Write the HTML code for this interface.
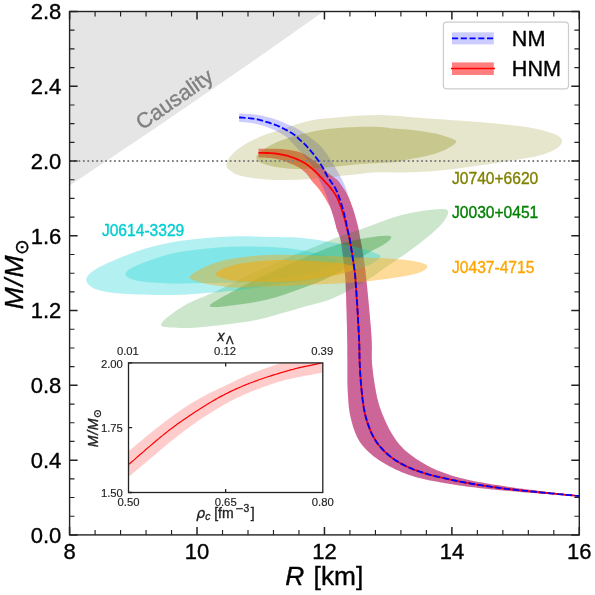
<!DOCTYPE html><html><head><meta charset="utf-8"><title>M-R</title><style>html,body{margin:0;padding:0;background:#fff}svg{color:#000}svg text{font-family:"Liberation Sans","DejaVu Sans",sans-serif;fill:currentColor;stroke:currentColor;stroke-width:.35px}</style></head><body><svg width="595" height="595" viewBox="0 0 595 595" style="display:block">
<rect width="595" height="595" fill="#fff"/>
<defs><clipPath id="ax"><rect x="69.6" y="11.5" width="509.69999999999993" height="523.4"/></clipPath><clipPath id="ins"><rect x="128.5" y="362.9" width="194.3" height="129.60000000000002"/></clipPath></defs>
<g clip-path="url(#ax)">
<path d="M69.6,185.6L153.3,129.6L250,63.2L323.6,11.5L69.6,11.5Z" fill="#e5e5e5"/>
<path d="M258.5,157.4L259.2,157.4L260.0,157.5L261.0,157.5L262.1,157.5L263.3,157.6L264.5,157.6L265.8,157.7L267.1,157.8L268.4,157.9L269.7,158.0L270.9,158.1L272.0,158.2L273.1,158.4L274.1,158.5L275.2,158.7L276.3,158.9L277.3,159.2L278.4,159.4L279.4,159.6L280.3,159.9L281.3,160.1L282.2,160.3L283.0,160.6L283.8,160.8L284.5,161.0L285.1,161.2L285.7,161.4L286.2,161.7L286.7,161.9L287.1,162.1L287.5,162.3L288.0,162.5L288.4,162.8L288.9,163.0L289.4,163.2L290.0,163.5L290.6,163.8L291.3,164.0L292.0,164.3L292.7,164.6L293.4,164.8L294.1,165.1L294.8,165.4L295.5,165.7L296.3,166.1L297.0,166.4L297.7,166.8L298.4,167.2L299.1,167.6L299.8,168.1L300.5,168.6L301.2,169.1L301.9,169.6L302.6,170.2L303.3,170.7L303.9,171.3L304.6,171.9L305.2,172.4L305.8,173.0L306.4,173.6L306.9,174.2L307.4,174.8L307.9,175.4L308.3,176.0L308.8,176.6L309.2,177.2L309.6,177.9L310.0,178.5L310.4,179.1L310.9,179.8L311.3,180.4L311.8,181.0L312.3,181.6L312.8,182.2L313.4,182.8L313.9,183.4L314.5,184.0L315.1,184.6L315.6,185.2L316.2,185.9L316.8,186.5L317.3,187.1L317.9,187.7L318.4,188.4L318.9,189.1L319.4,189.8L320.0,190.5L320.5,191.2L321.0,191.9L321.5,192.6L322.0,193.4L322.5,194.1L323.0,194.8L323.4,195.5L323.9,196.2L324.3,196.8L324.7,197.4L325.1,198.0L325.4,198.7L325.8,199.3L326.1,199.9L326.4,200.4L326.7,201.0L327.0,201.5L327.3,202.1L327.6,202.6L327.8,203.0L328.1,203.5L328.3,203.9L328.5,204.2L328.7,204.5L328.9,204.8L329.0,205.0L329.2,205.2L329.3,205.4L329.5,205.7L329.6,206.0L329.8,206.4L330.0,206.8L330.2,207.3L330.4,207.9L330.7,208.5L330.9,209.2L331.2,210.0L331.5,210.8L331.8,211.6L332.1,212.5L332.3,213.3L332.6,214.2L332.9,215.1L333.2,216.1L333.5,217.0L333.8,218.0L334.1,219.0L334.3,220.0L334.6,221.1L334.9,222.2L335.2,223.3L335.5,224.4L335.8,225.5L336.0,226.6L336.3,227.7L336.6,228.7L336.9,229.6L337.2,230.5L337.5,231.2L337.8,232.0L338.1,232.6L338.4,233.3L338.6,233.9L338.9,234.6L339.2,235.3L339.5,236.0L339.8,236.9L340.0,237.8L340.3,238.8L340.5,239.9L340.8,241.2L341.0,242.5L341.3,243.9L341.5,245.3L341.7,246.8L341.9,248.3L342.1,249.8L342.3,251.3L342.5,252.8L342.7,254.2L342.9,255.6L343.1,256.9L343.2,258.3L343.4,259.7L343.5,261.0L343.7,262.4L343.8,263.7L343.9,265.0L344.1,266.2L344.2,267.5L344.3,268.6L344.4,269.7L344.5,270.8L344.6,271.7L344.7,272.4L344.8,273.0L344.8,273.5L344.9,274.0L345.0,274.5L345.0,275.0L345.1,275.6L345.2,276.4L345.2,277.3L345.3,278.5L345.4,280.0L345.5,281.8L345.6,283.8L345.7,286.0L345.8,288.5L345.9,291.0L346.0,293.7L346.1,296.4L346.2,299.2L346.2,302.0L346.3,304.8L346.4,307.4L346.5,310.0L346.6,312.5L346.6,315.1L346.7,317.6L346.8,320.2L346.8,322.8L346.9,325.3L347.0,327.9L347.0,330.4L347.1,332.9L347.1,335.3L347.2,337.7L347.2,340.0L347.2,342.3L347.3,344.5L347.3,346.6L347.3,348.7L347.3,350.8L347.3,352.8L347.3,354.8L347.3,356.8L347.4,358.8L347.4,360.9L347.4,362.9L347.4,365.0L347.4,367.1L347.4,369.2L347.4,371.3L347.4,373.4L347.4,375.5L347.4,377.7L347.4,379.8L347.4,381.9L347.5,384.0L347.5,386.2L347.6,388.3L347.7,390.4L347.8,392.5L347.9,394.7L348.1,396.8L348.2,399.0L348.3,401.2L348.5,403.3L348.7,405.5L348.9,407.6L349.2,409.7L349.5,411.8L349.9,413.9L350.3,416.0L350.8,418.1L351.3,420.1L351.8,422.2L352.4,424.3L353.0,426.4L353.7,428.4L354.4,430.4L355.1,432.4L355.9,434.3L356.7,436.2L357.6,437.9L358.5,439.6L359.4,441.2L360.4,442.7L361.4,444.1L362.5,445.5L363.6,446.8L364.7,448.1L365.9,449.3L367.1,450.5L368.4,451.7L369.7,452.9L371.0,454.0L372.4,455.2L373.8,456.4L375.3,457.5L376.8,458.6L378.4,459.7L380.0,460.8L381.6,461.8L383.3,462.8L385.0,463.8L386.7,464.8L388.5,465.7L390.2,466.7L392.0,467.6L393.8,468.5L395.6,469.4L397.5,470.2L399.4,471.1L401.3,471.9L403.3,472.7L405.2,473.5L407.2,474.2L409.2,474.9L411.2,475.6L413.3,476.3L415.3,476.9L417.4,477.5L419.4,478.1L421.5,478.6L423.6,479.1L425.7,479.5L427.9,480.0L430.0,480.4L432.2,480.8L434.4,481.2L436.6,481.6L438.8,482.0L441.0,482.4L443.2,482.8L445.5,483.2L447.7,483.6L450.0,484.0L452.2,484.3L454.5,484.7L456.8,485.0L459.1,485.4L461.5,485.7L463.9,486.0L466.3,486.4L468.7,486.7L471.2,487.0L473.6,487.3L476.1,487.6L478.5,487.9L481.0,488.2L483.6,488.5L486.2,488.8L488.8,489.1L491.5,489.4L494.2,489.6L497.1,489.9L500.0,490.2L503.0,490.5L506.2,490.8L509.4,491.0L512.7,491.3L516.1,491.6L519.5,491.9L522.9,492.2L526.4,492.4L529.8,492.7L533.3,493.0L536.7,493.2L540.0,493.5L543.4,493.8L547.0,494.0L550.8,494.3L554.6,494.6L558.4,494.9L562.1,495.2L565.7,495.4L569.1,495.7L572.3,495.9L575.0,496.1L577.4,496.3L579.3,496.4L579.3,495.6L577.4,495.4L575.0,495.1L572.3,494.8L569.1,494.4L565.7,494.0L562.1,493.6L558.4,493.2L554.6,492.8L550.8,492.3L547.0,491.9L543.4,491.4L540.0,491.0L536.7,490.6L533.3,490.1L529.8,489.7L526.4,489.3L522.9,488.8L519.5,488.4L516.1,487.9L512.7,487.5L509.4,487.0L506.2,486.5L503.0,486.1L500.0,485.6L497.1,485.1L494.2,484.7L491.4,484.2L488.6,483.7L485.9,483.3L483.3,482.8L480.7,482.3L478.2,481.9L475.7,481.4L473.3,480.9L471.0,480.4L468.7,479.9L466.5,479.4L464.4,478.9L462.4,478.4L460.4,477.9L458.5,477.4L456.6,476.9L454.8,476.4L453.1,475.9L451.3,475.4L449.5,474.8L447.8,474.2L446.0,473.6L444.2,473.0L442.5,472.3L440.8,471.7L439.1,471.0L437.4,470.4L435.8,469.7L434.2,469.0L432.5,468.2L430.9,467.4L429.2,466.6L427.6,465.7L425.9,464.8L424.2,463.8L422.5,462.8L420.7,461.7L418.9,460.6L417.1,459.4L415.3,458.2L413.6,457.0L411.9,455.8L410.2,454.6L408.6,453.3L407.1,452.1L405.7,450.9L404.4,449.7L403.1,448.5L402.0,447.3L400.8,446.1L399.8,445.0L398.8,443.7L397.8,442.5L396.8,441.3L395.9,440.0L395.0,438.6L394.0,437.2L393.1,435.8L392.2,434.3L391.2,432.7L390.3,431.1L389.4,429.4L388.5,427.7L387.7,426.0L386.8,424.3L386.0,422.5L385.2,420.8L384.4,419.0L383.7,417.3L383.0,415.6L382.3,414.0L381.7,412.4L381.1,410.8L380.6,409.3L380.0,407.7L379.5,406.2L379.0,404.6L378.5,403.0L378.1,401.2L377.6,399.4L377.1,397.5L376.7,395.5L376.2,393.3L375.8,391.0L375.4,388.5L374.9,386.0L374.5,383.3L374.1,380.7L373.7,378.0L373.3,375.3L373.0,372.7L372.7,370.1L372.4,367.6L372.2,365.2L372.0,362.9L371.9,360.8L371.8,358.7L371.8,356.6L371.8,354.6L371.8,352.6L371.8,350.6L371.9,348.6L371.9,346.5L371.8,344.4L371.8,342.3L371.7,340.0L371.6,337.7L371.4,335.3L371.2,332.8L371.1,330.4L370.9,327.8L370.7,325.3L370.4,322.7L370.2,320.2L370.0,317.6L369.8,315.1L369.5,312.5L369.3,310.0L369.1,307.5L368.8,304.8L368.6,302.1L368.3,299.4L368.1,296.7L367.8,294.0L367.5,291.4L367.3,288.8L367.1,286.4L366.8,284.1L366.6,282.0L366.4,280.0L366.2,278.3L366.1,276.7L365.9,275.3L365.8,274.1L365.6,273.0L365.5,271.9L365.4,270.9L365.3,269.9L365.1,269.0L365.0,267.9L364.9,266.9L364.7,265.7L364.5,264.5L364.4,263.2L364.2,262.0L364.0,260.7L363.8,259.5L363.7,258.2L363.5,256.9L363.3,255.7L363.1,254.4L362.9,253.1L362.7,251.9L362.5,250.6L362.3,249.3L362.0,248.0L361.8,246.6L361.5,245.2L361.3,243.8L361.0,242.5L360.8,241.1L360.5,239.9L360.3,238.6L360.1,237.5L359.9,236.4L359.7,235.5L359.6,234.7L359.4,234.0L359.4,233.5L359.3,233.0L359.2,232.6L359.2,232.2L359.1,231.9L359.1,231.5L359.0,231.2L358.9,230.7L358.8,230.2L358.7,229.6L358.5,228.9L358.4,228.2L358.2,227.4L358.0,226.6L357.8,225.7L357.6,224.9L357.4,224.0L357.1,223.1L356.9,222.2L356.7,221.3L356.4,220.4L356.2,219.5L356.0,218.6L355.7,217.7L355.5,216.8L355.2,215.9L354.9,215.0L354.7,214.1L354.4,213.2L354.1,212.3L353.8,211.4L353.5,210.4L353.2,209.5L352.9,208.6L352.6,207.7L352.3,206.8L351.9,205.8L351.6,204.9L351.3,203.9L350.9,203.0L350.6,202.1L350.2,201.1L349.8,200.2L349.5,199.3L349.1,198.5L348.7,197.6L348.3,196.8L347.9,195.9L347.5,195.1L347.1,194.4L346.7,193.6L346.3,192.8L345.8,192.1L345.4,191.3L345.0,190.6L344.5,189.8L344.1,189.1L343.6,188.4L343.1,187.7L342.6,186.9L342.1,186.2L341.6,185.4L341.1,184.7L340.6,184.0L340.1,183.3L339.6,182.6L339.1,181.9L338.6,181.3L338.1,180.8L337.7,180.3L337.3,179.9L336.9,179.5L336.6,179.2L336.3,179.0L336.0,178.8L335.7,178.6L335.4,178.4L335.1,178.2L334.8,178.0L334.5,177.8L334.1,177.6L333.7,177.3L333.3,177.0L332.8,176.6L332.3,176.3L331.8,175.9L331.3,175.5L330.8,175.1L330.2,174.7L329.7,174.3L329.2,173.9L328.7,173.6L328.2,173.2L327.8,172.8L327.4,172.4L327.1,172.1L326.7,171.8L326.4,171.5L326.1,171.2L325.9,170.8L325.6,170.5L325.2,170.2L324.9,169.8L324.5,169.4L324.1,169.0L323.6,168.6L323.0,168.1L322.4,167.6L321.8,167.1L321.1,166.5L320.4,165.9L319.7,165.3L318.9,164.7L318.2,164.1L317.4,163.5L316.6,162.9L315.9,162.3L315.2,161.8L314.5,161.3L313.7,160.7L313.0,160.2L312.2,159.6L311.4,159.1L310.6,158.6L309.9,158.1L309.2,157.6L308.5,157.1L307.9,156.7L307.3,156.3L306.8,156.0L306.4,155.7L306.1,155.5L305.8,155.3L305.7,155.2L305.5,155.0L305.4,154.9L305.3,154.9L305.2,154.8L305.0,154.7L304.8,154.6L304.6,154.5L304.3,154.3L303.9,154.1L303.5,153.9L303.1,153.7L302.7,153.5L302.2,153.3L301.7,153.1L301.2,152.8L300.7,152.6L300.1,152.4L299.6,152.2L299.0,152.0L298.4,151.8L297.8,151.6L297.2,151.5L296.6,151.3L295.9,151.2L295.3,151.0L294.6,150.9L293.9,150.7L293.2,150.6L292.4,150.5L291.6,150.4L290.8,150.2L290.0,150.1L289.1,150.0L288.3,149.8L287.4,149.7L286.5,149.6L285.5,149.5L284.6,149.4L283.6,149.2L282.6,149.1L281.5,149.0L280.4,148.9L279.2,148.9L278.0,148.8L276.7,148.7L275.2,148.7L273.6,148.7L271.9,148.7L270.2,148.7L268.5,148.7L266.8,148.7L265.2,148.7L263.7,148.7L262.4,148.7L261.2,148.7L260.3,148.7L259.6,148.7L259.1,148.7L258.7,148.7L258.5,148.7L258.3,148.7L258.3,148.7L258.3,148.7L258.4,148.7L258.5,148.7L258.5,148.7L258.5,148.7L258.5,148.7Z" fill="#ff0000" fill-opacity="0.5"/>
<path d="M239.1,121.8L239.9,121.9L240.8,122.0L241.9,122.1L243.2,122.2L244.6,122.3L246.0,122.4L247.5,122.6L249.0,122.8L250.5,122.9L251.9,123.1L253.2,123.3L254.4,123.5L255.5,123.7L256.6,123.9L257.6,124.2L258.6,124.4L259.6,124.7L260.5,124.9L261.5,125.2L262.4,125.5L263.3,125.8L264.3,126.1L265.2,126.5L266.2,126.8L267.2,127.2L268.2,127.5L269.2,127.9L270.2,128.3L271.3,128.8L272.3,129.2L273.3,129.6L274.3,130.1L275.2,130.5L276.1,130.9L277.0,131.4L277.9,131.8L278.7,132.2L279.5,132.6L280.3,133.1L281.1,133.5L281.8,133.9L282.5,134.4L283.2,134.8L283.9,135.2L284.5,135.6L285.1,136.0L285.7,136.4L286.2,136.8L286.7,137.1L287.0,137.4L287.4,137.7L287.6,137.9L287.9,138.2L288.1,138.4L288.3,138.6L288.6,138.9L288.8,139.2L289.2,139.6L289.5,140.0L290.0,140.5L290.5,141.1L291.2,141.7L291.8,142.4L292.6,143.2L293.3,144.0L294.1,144.8L294.8,145.7L295.6,146.5L296.4,147.3L297.1,148.1L297.8,148.8L298.4,149.5L299.0,150.1L299.5,150.7L300.0,151.3L300.5,151.8L301.0,152.3L301.5,152.8L301.9,153.3L302.4,153.8L302.8,154.3L303.3,154.8L303.8,155.4L304.3,156.0L304.8,156.6L305.4,157.3L306.0,158.0L306.6,158.7L307.2,159.5L307.8,160.2L308.3,160.9L308.9,161.7L309.5,162.4L310.0,163.1L310.5,163.8L311.0,164.4L311.4,165.0L311.8,165.6L312.2,166.1L312.6,166.7L312.9,167.2L313.3,167.7L313.6,168.2L313.9,168.8L314.2,169.3L314.5,169.9L314.9,170.5L315.2,171.1L315.6,171.8L315.9,172.5L316.3,173.2L316.6,173.9L317.0,174.7L317.3,175.4L317.7,176.2L318.0,177.0L318.4,177.8L318.7,178.5L319.1,179.3L319.4,180.0L319.7,180.7L320.1,181.4L320.4,182.1L320.8,182.8L321.1,183.5L321.4,184.2L321.8,184.9L322.1,185.6L322.4,186.3L322.8,187.0L323.1,187.7L323.4,188.4L323.7,189.1L324.0,189.8L324.3,190.5L324.6,191.1L324.9,191.8L325.1,192.5L325.4,193.2L325.7,193.9L326.0,194.6L326.2,195.3L326.5,196.0L326.8,196.8L327.1,197.6L327.4,198.4L327.7,199.2L327.9,200.0L328.2,200.9L328.5,201.7L328.8,202.6L329.1,203.5L329.4,204.3L329.6,205.2L329.9,206.1L330.2,206.9L330.5,207.7L330.8,208.6L331.0,209.4L331.3,210.2L331.6,211.0L331.8,211.8L332.1,212.6L332.4,213.4L332.7,214.3L332.9,215.2L333.2,216.1L333.5,217.0L333.8,218.0L334.1,219.0L334.3,220.1L334.6,221.1L334.9,222.2L335.2,223.4L335.5,224.5L335.8,225.6L336.0,226.6L336.3,227.7L336.6,228.7L336.9,229.6L337.2,230.5L337.5,231.2L337.8,232.0L338.1,232.6L338.4,233.3L338.6,233.9L338.9,234.6L339.2,235.3L339.5,236.0L339.8,236.9L340.0,237.8L340.3,238.8L340.5,239.9L340.8,241.2L341.0,242.5L341.3,243.9L341.5,245.3L341.7,246.8L341.9,248.3L342.1,249.8L342.3,251.3L342.5,252.8L342.7,254.2L342.9,255.6L343.1,256.9L343.2,258.3L343.4,259.7L343.5,261.0L343.7,262.4L343.8,263.7L343.9,265.0L344.1,266.2L344.2,267.5L344.3,268.6L344.4,269.7L344.5,270.8L344.6,271.7L344.7,272.4L344.8,273.0L344.8,273.5L344.9,274.0L345.0,274.5L345.0,275.0L345.1,275.6L345.2,276.4L345.2,277.3L345.3,278.5L345.4,280.0L345.5,281.8L345.6,283.8L345.7,286.0L345.8,288.5L345.9,291.0L346.0,293.7L346.1,296.4L346.2,299.2L346.2,302.0L346.3,304.8L346.4,307.4L346.5,310.0L346.6,312.5L346.6,315.1L346.7,317.6L346.8,320.2L346.8,322.8L346.9,325.3L347.0,327.9L347.0,330.4L347.1,332.9L347.1,335.3L347.2,337.7L347.2,340.0L347.2,342.3L347.3,344.5L347.3,346.6L347.3,348.7L347.3,350.8L347.3,352.8L347.3,354.8L347.3,356.8L347.4,358.8L347.4,360.9L347.4,362.9L347.4,365.0L347.4,367.1L347.4,369.2L347.4,371.3L347.4,373.4L347.4,375.5L347.4,377.7L347.4,379.8L347.4,381.9L347.5,384.0L347.5,386.2L347.6,388.3L347.7,390.4L347.8,392.5L347.9,394.7L348.1,396.8L348.2,399.0L348.3,401.2L348.5,403.3L348.7,405.5L348.9,407.6L349.2,409.7L349.5,411.8L349.9,413.9L350.3,416.0L350.8,418.1L351.3,420.1L351.8,422.2L352.4,424.3L353.0,426.4L353.7,428.4L354.4,430.4L355.1,432.4L355.9,434.3L356.7,436.2L357.6,437.9L358.5,439.6L359.4,441.2L360.4,442.7L361.4,444.1L362.5,445.5L363.6,446.8L364.7,448.1L365.9,449.3L367.1,450.5L368.4,451.7L369.7,452.9L371.0,454.0L372.4,455.2L373.8,456.4L375.3,457.5L376.8,458.6L378.4,459.7L380.0,460.8L381.6,461.8L383.3,462.8L385.0,463.8L386.7,464.8L388.5,465.7L390.2,466.7L392.0,467.6L393.8,468.5L395.6,469.4L397.5,470.2L399.4,471.1L401.3,471.9L403.3,472.7L405.2,473.5L407.2,474.2L409.2,474.9L411.2,475.6L413.3,476.3L415.3,476.9L417.4,477.5L419.4,478.1L421.5,478.6L423.6,479.1L425.7,479.5L427.9,480.0L430.0,480.4L432.2,480.8L434.4,481.2L436.6,481.6L438.8,482.0L441.0,482.4L443.2,482.8L445.5,483.2L447.7,483.6L450.0,484.0L452.2,484.3L454.5,484.7L456.8,485.0L459.1,485.4L461.5,485.7L463.9,486.0L466.3,486.4L468.7,486.7L471.2,487.0L473.6,487.3L476.1,487.6L478.5,487.9L481.0,488.2L483.6,488.5L486.2,488.8L488.8,489.1L491.5,489.4L494.2,489.6L497.1,489.9L500.0,490.2L503.0,490.5L506.2,490.8L509.4,491.0L512.7,491.3L516.1,491.6L519.5,491.9L522.9,492.2L526.4,492.4L529.8,492.7L533.3,493.0L536.7,493.2L540.0,493.5L543.4,493.8L547.0,494.0L550.8,494.3L554.6,494.6L558.4,494.9L562.1,495.2L565.7,495.4L569.1,495.7L572.3,495.9L575.0,496.1L577.4,496.3L579.3,496.4L579.3,495.6L577.4,495.4L575.0,495.1L572.3,494.8L569.1,494.4L565.7,494.0L562.1,493.6L558.4,493.2L554.6,492.8L550.8,492.3L547.0,491.9L543.4,491.4L540.0,491.0L536.7,490.6L533.3,490.1L529.8,489.7L526.4,489.3L522.9,488.8L519.5,488.4L516.1,487.9L512.7,487.5L509.4,487.0L506.2,486.5L503.0,486.1L500.0,485.6L497.1,485.1L494.2,484.7L491.4,484.2L488.6,483.7L485.9,483.3L483.3,482.8L480.7,482.3L478.2,481.9L475.7,481.4L473.3,480.9L471.0,480.4L468.7,479.9L466.5,479.4L464.4,478.9L462.4,478.4L460.4,477.9L458.5,477.4L456.6,476.9L454.8,476.4L453.1,475.9L451.3,475.4L449.5,474.8L447.8,474.2L446.0,473.6L444.2,473.0L442.5,472.3L440.8,471.7L439.1,471.0L437.4,470.4L435.8,469.7L434.2,469.0L432.5,468.2L430.9,467.4L429.2,466.6L427.6,465.7L425.9,464.8L424.2,463.8L422.5,462.8L420.7,461.7L418.9,460.6L417.1,459.4L415.3,458.2L413.6,457.0L411.9,455.8L410.2,454.6L408.6,453.3L407.1,452.1L405.7,450.9L404.4,449.7L403.1,448.5L402.0,447.3L400.8,446.1L399.8,445.0L398.8,443.7L397.8,442.5L396.8,441.3L395.9,440.0L395.0,438.6L394.0,437.2L393.1,435.8L392.2,434.3L391.2,432.7L390.3,431.1L389.4,429.4L388.5,427.7L387.7,426.0L386.8,424.3L386.0,422.5L385.2,420.8L384.4,419.0L383.7,417.3L383.0,415.6L382.3,414.0L381.7,412.4L381.1,410.8L380.6,409.3L380.0,407.7L379.5,406.2L379.0,404.6L378.5,403.0L378.1,401.2L377.6,399.4L377.1,397.5L376.7,395.5L376.2,393.3L375.8,391.0L375.4,388.5L374.9,386.0L374.5,383.3L374.1,380.7L373.7,378.0L373.3,375.3L373.0,372.7L372.7,370.1L372.4,367.6L372.2,365.2L372.0,362.9L371.9,360.8L371.8,358.7L371.8,356.6L371.8,354.6L371.8,352.6L371.8,350.6L371.9,348.6L371.9,346.5L371.8,344.4L371.8,342.3L371.7,340.0L371.6,337.7L371.4,335.3L371.2,332.8L371.1,330.4L370.9,327.8L370.7,325.3L370.4,322.7L370.2,320.2L370.0,317.6L369.8,315.1L369.5,312.5L369.3,310.0L369.1,307.5L368.8,304.8L368.6,302.1L368.3,299.4L368.1,296.7L367.8,294.0L367.5,291.4L367.3,288.8L367.1,286.4L366.8,284.1L366.6,282.0L366.4,280.0L366.2,278.3L366.1,276.7L365.9,275.3L365.8,274.1L365.6,273.0L365.5,271.9L365.4,270.9L365.3,269.9L365.1,269.0L365.0,267.9L364.9,266.9L364.7,265.7L364.5,264.5L364.4,263.2L364.2,262.0L364.0,260.7L363.8,259.5L363.7,258.2L363.5,256.9L363.3,255.7L363.1,254.4L362.9,253.1L362.7,251.9L362.5,250.6L362.3,249.3L362.0,248.0L361.8,246.6L361.5,245.2L361.3,243.8L361.0,242.5L360.8,241.1L360.5,239.9L360.3,238.6L360.1,237.5L359.9,236.4L359.7,235.5L359.6,234.7L359.4,234.0L359.4,233.5L359.3,233.0L359.2,232.6L359.2,232.2L359.1,231.9L359.1,231.5L359.0,231.2L358.9,230.7L358.8,230.2L358.7,229.6L358.5,228.9L358.4,228.2L358.2,227.4L358.0,226.6L357.8,225.7L357.6,224.9L357.4,224.0L357.1,223.1L356.9,222.2L356.7,221.3L356.4,220.4L356.2,219.5L356.0,218.6L355.7,217.7L355.5,216.8L355.2,215.9L354.9,214.9L354.7,214.0L354.4,213.1L354.1,212.1L353.8,211.2L353.6,210.3L353.3,209.5L353.0,208.6L352.7,207.8L352.4,207.0L352.1,206.2L351.8,205.4L351.5,204.6L351.2,203.9L350.9,203.1L350.6,202.3L350.3,201.6L350.1,200.8L349.8,200.1L349.5,199.3L349.2,198.5L349.0,197.7L348.7,197.0L348.5,196.2L348.2,195.4L348.0,194.6L347.8,193.8L347.5,193.0L347.3,192.3L347.0,191.5L346.8,190.7L346.5,190.0L346.2,189.3L345.9,188.5L345.6,187.8L345.4,187.0L345.1,186.3L344.8,185.5L344.4,184.8L344.1,184.1L343.9,183.4L343.6,182.7L343.3,182.1L343.0,181.5L342.7,180.9L342.5,180.4L342.3,180.0L342.1,179.5L341.8,179.1L341.6,178.7L341.4,178.3L341.2,177.9L340.9,177.4L340.6,177.0L340.3,176.4L340.0,175.8L339.6,175.1L339.2,174.4L338.8,173.6L338.3,172.7L337.8,171.9L337.3,171.0L336.8,170.1L336.3,169.2L335.8,168.3L335.4,167.5L334.9,166.7L334.5,166.0L334.1,165.3L333.7,164.7L333.4,164.1L333.0,163.6L332.7,163.0L332.4,162.5L332.0,162.0L331.7,161.5L331.4,161.0L331.0,160.4L330.7,159.9L330.3,159.3L329.9,158.7L329.5,158.1L329.1,157.5L328.7,156.8L328.3,156.2L327.9,155.6L327.5,154.9L327.1,154.3L326.6,153.6L326.2,153.0L325.8,152.4L325.3,151.8L324.8,151.2L324.4,150.6L323.9,150.0L323.4,149.4L322.9,148.8L322.4,148.2L321.9,147.7L321.4,147.1L320.9,146.6L320.4,146.0L319.9,145.5L319.4,145.0L318.9,144.5L318.5,144.1L318.0,143.7L317.6,143.3L317.1,142.9L316.7,142.5L316.2,142.1L315.7,141.7L315.2,141.3L314.7,140.9L314.1,140.5L313.5,140.0L312.8,139.5L312.1,138.9L311.4,138.4L310.6,137.8L309.8,137.1L308.9,136.5L308.1,135.9L307.3,135.3L306.4,134.7L305.6,134.1L304.8,133.5L304.0,133.0L303.2,132.5L302.4,132.0L301.7,131.5L300.9,131.0L300.1,130.5L299.3,130.0L298.5,129.6L297.8,129.2L297.1,128.7L296.3,128.3L295.7,128.0L295.0,127.6L294.4,127.3L293.8,127.0L293.3,126.7L292.8,126.5L292.3,126.3L291.9,126.1L291.4,125.9L290.9,125.7L290.4,125.5L289.8,125.2L289.2,125.0L288.5,124.7L287.8,124.4L287.0,124.0L286.2,123.7L285.3,123.3L284.4,122.9L283.5,122.5L282.6,122.1L281.7,121.7L280.7,121.3L279.8,120.9L278.8,120.5L277.9,120.2L277.0,119.9L276.0,119.5L275.1,119.2L274.1,118.9L273.1,118.6L272.1,118.3L271.1,118.0L270.1,117.7L269.2,117.5L268.2,117.2L267.2,116.9L266.2,116.7L265.2,116.5L264.3,116.2L263.3,116.0L262.4,115.8L261.5,115.6L260.5,115.4L259.6,115.2L258.6,115.0L257.6,114.8L256.6,114.7L255.5,114.5L254.4,114.4L253.2,114.3L251.9,114.2L250.5,114.1L249.0,114.0L247.5,113.9L246.0,113.8L244.6,113.7L243.2,113.7L241.9,113.6L240.8,113.6L239.9,113.5L239.1,113.5Z" fill="#0000ff" fill-opacity="0.2"/>
<path d="M226.3,164.2C226.6,161.5 229.1,157.7 232.0,154.5C234.9,151.3 238.9,148.3 243.6,145.3C248.3,142.3 254.7,139.0 260.3,136.6C265.9,134.2 268.8,133.5 277.2,130.8C285.6,128.1 299.6,122.9 310.8,120.6C322.0,118.3 333.3,117.7 344.5,116.8C355.7,115.9 367.1,115.1 378.0,115.1C388.9,115.1 401.6,116.4 410.0,117.0C418.4,117.6 419.9,117.9 428.6,118.5C437.3,119.1 451.0,120.0 462.2,120.8C473.4,121.6 484.6,122.4 495.8,123.5C507.0,124.6 519.9,125.9 529.4,127.6C538.9,129.3 547.6,131.5 553.0,133.6C558.4,135.7 561.5,137.8 562.0,140.3C562.5,142.8 560.0,146.2 556.3,148.7C552.5,151.2 546.8,153.5 539.5,155.5C532.2,157.5 522.7,158.8 512.6,160.5C502.5,162.2 490.2,163.9 479.0,165.5C467.8,167.1 456.6,168.8 445.4,169.9C434.2,171.0 423.0,171.9 411.8,172.3C400.6,172.7 389.2,171.8 378.0,172.3C366.8,172.9 355.7,174.5 344.5,175.6C333.3,176.7 322.0,178.3 310.8,179.0C299.6,179.7 288.4,180.4 277.2,180.0C266.0,179.6 251.5,178.2 243.6,176.6C235.7,175.0 232.9,172.7 230.0,170.6C227.1,168.5 226.0,166.9 226.3,164.2Z" fill="#808000" fill-opacity="0.2"/>
<path d="M257.0,155.5C259.2,151.8 268.2,145.9 277.2,142.0C286.2,138.1 299.6,134.4 310.8,132.0C322.0,129.6 333.3,128.4 344.5,127.6C355.7,126.8 369.6,126.7 378.0,126.9C386.4,127.1 388.8,128.0 395.0,128.6C401.2,129.2 408.5,129.5 415.2,130.3C421.9,131.1 429.7,132.4 435.3,133.6C440.9,134.8 445.3,136.2 448.8,137.6C452.3,139.0 456.8,140.0 456.2,142.0C455.6,144.0 450.0,147.4 445.4,149.7C440.8,151.9 434.2,154.0 428.6,155.5C423.0,157.0 417.4,157.7 411.8,158.8C406.2,159.9 403.3,161.3 394.9,162.2C386.5,163.0 372.5,163.1 361.3,163.9C350.1,164.7 338.8,166.4 327.6,167.2C316.4,168.0 304.6,169.4 294.0,168.9C283.4,168.4 270.0,166.1 263.8,163.9C257.6,161.7 254.8,159.2 257.0,155.5Z" fill="#808000" fill-opacity="0.3"/>
<path d="M161.3,323.5C163.2,319.9 174.3,311.3 183.6,305.9C192.9,300.4 206.0,296.1 217.2,290.8C228.4,285.5 239.6,279.3 250.8,274.0C262.0,268.7 273.3,263.7 284.5,258.9C295.7,254.1 309.1,249.1 318.0,245.4C326.9,241.8 330.0,240.1 338.2,237.0C346.4,233.9 356.8,230.6 367.2,227.0C377.6,223.4 389.6,218.2 400.8,215.3C412.0,212.4 426.6,210.3 434.5,209.6C442.4,208.9 446.8,208.4 447.9,210.9C449.0,213.4 446.2,218.8 441.2,224.5C436.1,230.2 427.1,237.7 417.6,245.0C408.1,252.3 392.4,262.7 384.0,268.5C375.6,274.3 375.6,275.1 367.2,280.0C358.8,284.9 344.8,293.3 333.6,298.0C322.4,302.7 308.2,305.6 300.0,308.0C291.8,310.4 292.7,310.3 284.5,312.5C276.3,314.7 264.8,318.6 250.8,321.0C236.8,323.4 213.5,326.1 200.4,327.2C187.3,328.3 178.5,328.2 172.0,327.6C165.5,327.0 159.4,327.1 161.3,323.5Z" fill="#008000" fill-opacity="0.2"/>
<path d="M209.8,305.9C209.8,303.5 224.4,296.1 234.0,290.8C243.6,285.5 256.4,279.3 267.6,274.0C278.8,268.7 290.1,263.7 301.3,258.9C312.5,254.1 323.9,248.9 334.9,245.4C345.9,241.9 358.0,239.4 367.2,237.8C376.4,236.2 387.0,235.1 390.1,236.0C393.2,236.9 389.8,240.1 386.0,243.0C382.2,245.9 375.9,248.3 367.2,253.6C358.5,258.9 344.6,269.2 333.6,275.0C322.6,280.8 312.3,284.4 301.3,288.5C290.3,292.6 278.8,296.7 267.6,299.5C256.4,302.3 243.6,304.1 234.0,305.2C224.4,306.3 209.8,308.3 209.8,305.9Z" fill="#008000" fill-opacity="0.31"/>
<path d="M86.3,280.0C86.3,277.9 87.1,276.0 90.0,273.5C92.9,271.0 95.7,268.7 103.6,265.0C111.5,261.3 126.0,255.0 137.2,251.3C148.4,247.6 159.6,244.8 170.8,242.6C182.0,240.4 193.3,239.4 204.5,238.3C215.7,237.2 227.1,236.5 238.0,236.3C248.9,236.1 259.7,236.8 270.0,237.0C280.3,237.2 289.4,236.9 300.0,237.8C310.6,238.7 323.6,240.9 333.6,242.6C343.6,244.3 353.4,246.6 360.0,248.2C366.6,249.8 369.6,250.8 373.0,252.2C376.4,253.6 380.6,254.8 380.6,256.6C380.6,258.4 375.6,261.3 373.0,263.0C370.4,264.7 368.8,265.2 365.0,266.6C361.2,268.0 357.9,269.7 350.4,271.6C342.9,273.5 331.7,276.1 320.0,278.2C308.3,280.3 293.3,282.0 280.0,284.0C266.7,286.0 255.4,288.3 240.0,290.0C224.6,291.7 201.9,293.6 187.6,294.4C173.3,295.2 165.2,295.1 154.0,295.0C142.8,294.9 129.4,294.4 120.4,293.6C111.4,292.9 105.1,291.8 100.0,290.5C94.9,289.2 92.3,287.8 90.0,286.0C87.7,284.2 86.3,282.1 86.3,280.0Z" fill="#00ced1" fill-opacity="0.3"/>
<path d="M125.5,274.0C125.5,271.4 129.6,268.7 137.2,265.3C144.8,261.9 159.6,256.6 170.8,253.8C182.0,251.1 193.3,250.0 204.5,248.8C215.7,247.6 227.1,246.8 238.0,246.5C248.9,246.2 259.7,246.5 270.0,247.1C280.3,247.7 290.8,248.5 300.0,250.0C309.2,251.5 318.8,254.0 325.0,256.0C331.2,258.0 337.8,259.7 337.0,262.0C336.2,264.3 327.8,267.5 320.0,270.0C312.2,272.5 301.7,275.0 290.0,277.0C278.3,279.0 264.2,281.0 250.0,282.0C235.8,283.0 217.7,282.8 204.5,283.0C191.3,283.2 182.0,283.8 170.8,283.4C159.6,283.0 144.8,282.3 137.2,280.7C129.6,279.1 125.5,276.6 125.5,274.0Z" fill="#00ced1" fill-opacity="0.28"/>
<path d="M190.3,275.7C193.1,272.3 207.1,265.4 217.2,262.2C227.3,258.9 239.6,257.4 250.8,256.2C262.0,255.0 273.3,254.9 284.5,254.8C295.7,254.7 307.1,255.1 318.0,255.5C328.9,255.9 339.0,256.8 350.0,257.2C361.0,257.6 374.0,257.6 384.0,258.2C394.0,258.8 402.8,259.4 410.0,260.6C417.2,261.8 425.8,263.4 427.1,265.5C428.4,267.6 424.8,270.9 417.6,273.2C410.4,275.5 395.2,277.7 384.0,279.3C372.8,280.9 364.2,281.9 350.4,282.8C336.6,283.8 315.1,284.4 301.3,285.0C287.5,285.6 278.8,286.0 267.6,286.4C256.4,286.8 245.2,288.1 234.0,287.4C222.8,286.7 207.7,284.3 200.4,282.4C193.1,280.4 187.5,279.1 190.3,275.7Z" fill="#ffa500" fill-opacity="0.4"/>
<path d="M215.5,274.0C215.5,271.4 225.3,267.1 234.0,264.9C242.7,262.6 256.4,261.2 267.6,260.5C278.8,259.8 290.1,260.1 301.3,260.5C312.5,260.9 326.9,261.8 335.0,262.6C343.1,263.4 346.3,264.3 350.0,265.2C353.7,266.1 357.2,266.8 357.2,267.8C357.2,268.8 353.7,269.9 350.0,271.2C346.3,272.4 343.1,273.7 335.0,275.3C326.9,276.9 312.5,279.6 301.3,280.7C290.1,281.8 278.8,281.7 267.6,281.7C256.4,281.7 242.7,282.0 234.0,280.7C225.3,279.4 215.5,276.6 215.5,274.0Z" fill="#ffa500" fill-opacity="0.5"/>
<path d="M69.6,161.0H579.3" stroke="#808080" stroke-width="1.8" stroke-dasharray="1.75,2.7" fill="none"/>
<path d="M258.5,152.9L259.2,152.9L260.0,152.9L261.0,152.9L262.1,152.9L263.3,152.9L264.5,152.9L265.8,153.0L267.1,153.0L268.4,153.0L269.7,153.1L270.9,153.1L272.0,153.2L273.1,153.3L274.1,153.4L275.2,153.5L276.3,153.7L277.3,153.9L278.4,154.0L279.4,154.2L280.3,154.4L281.3,154.5L282.2,154.7L283.0,154.9L283.8,155.0L284.5,155.1L285.1,155.3L285.7,155.4L286.2,155.5L286.7,155.6L287.1,155.7L287.5,155.8L288.0,156.0L288.4,156.1L288.9,156.2L289.4,156.4L290.0,156.6L290.6,156.8L291.3,157.0L291.9,157.3L292.6,157.5L293.3,157.7L294.1,158.0L294.8,158.3L295.5,158.6L296.2,158.9L297.0,159.2L297.7,159.5L298.4,159.8L299.1,160.1L299.8,160.5L300.5,160.8L301.2,161.1L301.9,161.5L302.6,161.9L303.3,162.2L304.0,162.6L304.7,163.0L305.4,163.5L306.1,163.9L306.8,164.4L307.5,164.9L308.2,165.4L308.9,166.0L309.6,166.5L310.3,167.1L311.0,167.7L311.7,168.3L312.4,168.9L313.1,169.6L313.8,170.2L314.5,170.8L315.2,171.5L315.9,172.2L316.6,172.9L317.3,173.6L318.0,174.3L318.8,175.0L319.5,175.8L320.2,176.5L320.9,177.3L321.6,178.0L322.3,178.8L322.9,179.5L323.6,180.2L324.3,180.9L324.9,181.6L325.6,182.3L326.2,183.0L326.8,183.6L327.5,184.3L328.1,185.0L328.7,185.7L329.3,186.3L329.9,187.0L330.4,187.7L331.0,188.4L331.5,189.1L332.1,189.8L332.6,190.4L333.1,191.1L333.5,191.8L334.0,192.5L334.5,193.2L334.9,193.9L335.3,194.6L335.8,195.3L336.2,196.0L336.6,196.8L337.0,197.6L337.4,198.4L337.8,199.2L338.1,200.0L338.5,200.8L338.8,201.7L339.2,202.5L339.5,203.4L339.8,204.3L340.2,205.2L340.5,206.0L340.8,206.9L341.1,207.8L341.4,208.7L341.7,209.5L342.0,210.4L342.3,211.3L342.6,212.2L342.9,213.2L343.2,214.1L343.5,215.0L343.7,215.9L344.0,216.9L344.3,217.8L344.6,218.8L344.9,219.7L345.1,220.7L345.4,221.8L345.7,222.8L345.9,223.8L346.2,224.8L346.4,225.8L346.7,226.8L346.9,227.8L347.2,228.7L347.4,229.6L347.6,230.4L347.8,231.2L348.0,231.9L348.2,232.6L348.4,233.2L348.5,233.9L348.7,234.6L348.9,235.3L349.0,236.0L349.2,236.9L349.4,237.8L349.6,238.8L349.8,239.9L350.0,241.2L350.3,242.5L350.5,243.9L350.8,245.3L351.0,246.8L351.2,248.3L351.5,249.8L351.7,251.3L352.0,252.8L352.2,254.2L352.4,255.6L352.6,256.9L352.8,258.3L353.0,259.7L353.2,261.0L353.4,262.4L353.6,263.7L353.8,265.0L354.0,266.2L354.2,267.5L354.3,268.6L354.5,269.7L354.6,270.8L354.7,271.7L354.8,272.4L354.9,273.0L355.0,273.5L355.0,274.0L355.1,274.5L355.1,275.0L355.2,275.6L355.2,276.4L355.3,277.3L355.4,278.5L355.5,280.0L355.6,281.8L355.8,283.8L355.9,286.0L356.1,288.5L356.3,291.0L356.5,293.7L356.6,296.4L356.8,299.2L357.0,302.0L357.2,304.8L357.3,307.4L357.5,310.0L357.7,312.5L357.8,315.1L357.9,317.6L358.1,320.2L358.2,322.7L358.4,325.3L358.5,327.8L358.6,330.4L358.8,332.8L358.9,335.3L359.0,337.7L359.1,340.0L359.2,342.3L359.3,344.5L359.3,346.6L359.4,348.8L359.4,350.8L359.4,352.9L359.5,354.9L359.5,357.0L359.6,359.0L359.6,361.1L359.7,363.1L359.8,365.2L359.9,367.3L360.0,369.4L360.1,371.5L360.2,373.6L360.4,375.7L360.5,377.8L360.7,379.9L360.8,382.0L361.0,384.1L361.2,386.2L361.4,388.3L361.6,390.4L361.8,392.5L362.1,394.6L362.3,396.8L362.5,398.9L362.8,401.0L363.1,403.2L363.4,405.3L363.7,407.4L364.1,409.5L364.5,411.5L364.9,413.6L365.4,415.6L365.9,417.6L366.5,419.6L367.1,421.6L367.8,423.6L368.5,425.6L369.2,427.5L369.9,429.4L370.7,431.3L371.5,433.1L372.4,434.9L373.3,436.6L374.2,438.3L375.2,439.9L376.2,441.5L377.2,443.0L378.3,444.4L379.4,445.8L380.6,447.2L381.8,448.5L383.0,449.8L384.2,451.1L385.5,452.3L386.8,453.5L388.1,454.7L389.4,455.8L390.8,456.9L392.2,458.0L393.6,459.0L395.0,460.0L396.5,460.9L398.0,461.8L399.5,462.7L401.0,463.6L402.6,464.4L404.1,465.2L405.7,466.0L407.3,466.8L408.9,467.5L410.6,468.2L412.2,468.9L413.9,469.6L415.6,470.2L417.4,470.8L419.1,471.4L420.8,472.0L422.5,472.5L424.2,473.1L425.9,473.6L427.6,474.1L429.2,474.6L430.9,475.0L432.5,475.5L434.2,475.9L435.8,476.3L437.4,476.7L439.1,477.1L440.8,477.4L442.5,477.8L444.2,478.2L446.0,478.6L447.8,479.0L449.5,479.4L451.3,479.8L453.1,480.2L454.8,480.5L456.6,480.9L458.5,481.3L460.4,481.7L462.4,482.0L464.4,482.4L466.5,482.8L468.7,483.2L471.0,483.6L473.3,484.0L475.7,484.4L478.2,484.8L480.7,485.2L483.3,485.6L485.9,486.0L488.6,486.4L491.4,486.8L494.2,487.2L497.1,487.6L500.0,488.0L503.0,488.4L506.2,488.8L509.4,489.1L512.7,489.5L516.1,489.9L519.5,490.2L522.9,490.6L526.4,490.9L529.8,491.3L533.3,491.6L536.7,492.0L540.0,492.3L543.4,492.6L547.0,493.0L550.8,493.4L554.6,493.7L558.4,494.1L562.1,494.4L565.7,494.8L569.1,495.1L572.3,495.3L575.0,495.6L577.4,495.8L579.3,496.0" stroke="#ff0000" stroke-width="1.8" fill="none"/>
<path d="M239.1,117.4L239.9,117.5L240.8,117.5L241.9,117.6L243.2,117.7L244.6,117.8L246.0,117.9L247.5,118.0L249.0,118.2L250.5,118.3L251.9,118.5L253.2,118.6L254.4,118.8L255.5,119.0L256.6,119.2L257.6,119.4L258.6,119.6L259.6,119.9L260.5,120.1L261.5,120.4L262.4,120.7L263.3,120.9L264.3,121.2L265.2,121.5L266.2,121.8L267.2,122.1L268.2,122.4L269.2,122.7L270.1,123.0L271.1,123.4L272.1,123.7L273.1,124.1L274.1,124.4L275.1,124.8L276.0,125.1L277.0,125.5L277.9,125.9L278.8,126.3L279.8,126.7L280.7,127.2L281.7,127.6L282.6,128.1L283.5,128.5L284.4,129.0L285.3,129.5L286.2,129.9L287.0,130.4L287.8,130.8L288.5,131.2L289.2,131.6L289.8,131.9L290.4,132.3L291.0,132.6L291.6,133.0L292.1,133.3L292.6,133.6L293.1,133.9L293.6,134.3L294.0,134.6L294.5,134.9L295.0,135.3L295.5,135.7L295.9,136.0L296.3,136.4L296.7,136.8L297.1,137.1L297.5,137.5L297.9,137.9L298.3,138.3L298.7,138.7L299.2,139.1L299.6,139.6L300.1,140.0L300.6,140.5L301.1,140.9L301.6,141.4L302.2,141.8L302.7,142.3L303.2,142.8L303.8,143.3L304.4,143.9L305.0,144.4L305.6,145.0L306.2,145.6L306.8,146.3L307.4,147.0L308.1,147.8L308.8,148.6L309.5,149.4L310.3,150.3L311.0,151.1L311.7,152.0L312.5,152.9L313.2,153.8L313.9,154.7L314.6,155.6L315.2,156.4L315.8,157.2L316.4,158.0L317.0,158.8L317.6,159.6L318.2,160.4L318.7,161.2L319.3,162.0L319.8,162.8L320.3,163.6L320.8,164.4L321.4,165.3L321.9,166.1L322.4,167.0L322.9,167.8L323.4,168.7L323.9,169.6L324.3,170.5L324.8,171.4L325.3,172.4L325.7,173.3L326.2,174.2L326.7,175.1L327.3,176.1L327.8,177.0L328.4,177.9L329.0,178.9L329.7,179.8L330.3,180.8L331.0,181.8L331.7,182.8L332.4,183.7L333.1,184.7L333.7,185.6L334.3,186.6L334.9,187.5L335.4,188.4L335.9,189.3L336.3,190.2L336.7,191.0L337.1,191.9L337.4,192.7L337.8,193.5L338.1,194.4L338.4,195.2L338.7,196.0L339.0,196.8L339.3,197.7L339.6,198.5L339.9,199.3L340.2,200.2L340.5,201.0L340.7,201.9L341.0,202.7L341.2,203.6L341.5,204.4L341.7,205.2L342.0,206.1L342.2,206.9L342.5,207.8L342.7,208.6L342.9,209.4L343.2,210.3L343.4,211.1L343.6,211.9L343.8,212.8L344.1,213.6L344.3,214.4L344.5,215.3L344.7,216.1L344.9,217.0L345.1,217.8L345.3,218.7L345.5,219.6L345.7,220.5L345.9,221.4L346.1,222.3L346.3,223.3L346.4,224.2L346.6,225.1L346.8,226.1L347.0,227.0L347.1,227.9L347.3,228.7L347.5,229.6L347.7,230.4L347.8,231.1L348.0,231.8L348.2,232.5L348.3,233.2L348.5,233.8L348.7,234.5L348.9,235.2L349.0,236.0L349.2,236.8L349.4,237.8L349.6,238.8L349.8,239.9L350.0,241.2L350.3,242.5L350.5,243.9L350.7,245.3L351.0,246.8L351.2,248.3L351.5,249.8L351.7,251.3L352.0,252.8L352.2,254.2L352.4,255.6L352.6,256.9L352.8,258.3L353.0,259.7L353.2,261.0L353.4,262.4L353.6,263.7L353.8,265.0L354.0,266.2L354.2,267.5L354.3,268.6L354.5,269.7L354.6,270.8L354.7,271.7L354.8,272.4L354.9,273.0L355.0,273.5L355.0,274.0L355.1,274.5L355.1,275.0L355.2,275.6L355.2,276.4L355.3,277.3L355.4,278.5L355.5,280.0L355.6,281.8L355.8,283.8L355.9,286.0L356.1,288.5L356.3,291.0L356.5,293.7L356.6,296.4L356.8,299.2L357.0,302.0L357.2,304.8L357.3,307.4L357.5,310.0L357.7,312.5L357.8,315.1L357.9,317.6L358.1,320.2L358.2,322.7L358.4,325.3L358.5,327.8L358.6,330.4L358.8,332.8L358.9,335.3L359.0,337.7L359.1,340.0L359.2,342.3L359.3,344.5L359.3,346.6L359.4,348.8L359.4,350.8L359.4,352.9L359.5,354.9L359.5,357.0L359.6,359.0L359.6,361.1L359.7,363.1L359.8,365.2L359.9,367.3L360.0,369.4L360.1,371.5L360.2,373.6L360.4,375.7L360.5,377.8L360.7,379.9L360.8,382.0L361.0,384.1L361.2,386.2L361.4,388.3L361.6,390.4L361.8,392.5L362.1,394.6L362.3,396.8L362.5,398.9L362.8,401.0L363.1,403.2L363.4,405.3L363.7,407.4L364.1,409.5L364.5,411.5L364.9,413.6L365.4,415.6L365.9,417.6L366.5,419.6L367.1,421.6L367.8,423.6L368.5,425.6L369.2,427.5L369.9,429.4L370.7,431.3L371.5,433.1L372.4,434.9L373.3,436.6L374.2,438.3L375.2,439.9L376.2,441.5L377.2,443.0L378.3,444.4L379.4,445.8L380.6,447.2L381.8,448.5L383.0,449.8L384.2,451.1L385.5,452.3L386.8,453.5L388.1,454.7L389.4,455.8L390.8,456.9L392.2,458.0L393.6,459.0L395.0,460.0L396.5,460.9L398.0,461.8L399.5,462.7L401.0,463.6L402.6,464.4L404.1,465.2L405.7,466.0L407.3,466.8L408.9,467.5L410.6,468.2L412.2,468.9L413.9,469.6L415.6,470.2L417.4,470.8L419.1,471.4L420.8,472.0L422.5,472.5L424.2,473.1L425.9,473.6L427.6,474.1L429.2,474.6L430.9,475.0L432.5,475.5L434.2,475.9L435.8,476.3L437.4,476.7L439.1,477.1L440.8,477.4L442.5,477.8L444.2,478.2L446.0,478.6L447.8,479.0L449.5,479.4L451.3,479.8L453.1,480.2L454.8,480.5L456.6,480.9L458.5,481.3L460.4,481.7L462.4,482.0L464.4,482.4L466.5,482.8L468.7,483.2L471.0,483.6L473.3,484.0L475.7,484.4L478.2,484.8L480.7,485.2L483.3,485.6L485.9,486.0L488.6,486.4L491.4,486.8L494.2,487.2L497.1,487.6L500.0,488.0L503.0,488.4L506.2,488.8L509.4,489.1L512.7,489.5L516.1,489.9L519.5,490.2L522.9,490.6L526.4,490.9L529.8,491.3L533.3,491.6L536.7,492.0L540.0,492.3L543.4,492.6L547.0,493.0L550.8,493.4L554.6,493.7L558.4,494.1L562.1,494.4L565.7,494.8L569.1,495.1L572.3,495.3L575.0,495.6L577.4,495.8L579.3,496.0" stroke="#0000ff" stroke-width="1.85" stroke-dasharray="6.5,2.4" fill="none"/>
</g>
<text x="174.5" y="99.5" font-size="21.5" color="#808080" text-anchor="middle" transform="rotate(-35 174.5 99.5)" dominant-baseline="central">Causality</text>
<text x="452" y="184.1" font-size="15.6" color="#808000">J0740+6620</text>
<text x="452" y="217.6" font-size="15.6" color="#008000">J0030+0451</text>
<text x="452" y="272.9" font-size="15.6" color="#ffa500">J0437-4715</text>
<text x="101.9" y="235.7" font-size="15.6" color="#00ced1">J0614-3329</text>
<path d="M69.60,534.9v-8M69.60,11.5v8M197.02,534.9v-8M197.02,11.5v8M324.45,534.9v-8M324.45,11.5v8M451.88,534.9v-8M451.88,11.5v8M579.30,534.9v-8M579.30,11.5v8M69.6,534.90h8M579.3,534.90h-8M69.6,460.13h8M579.3,460.13h-8M69.6,385.36h8M579.3,385.36h-8M69.6,310.59h8M579.3,310.59h-8M69.6,235.81h8M579.3,235.81h-8M69.6,161.04h8M579.3,161.04h-8M69.6,86.27h8M579.3,86.27h-8M69.6,11.50h8M579.3,11.50h-8" stroke="#222" stroke-width="1.5" fill="none"/>
<path d="M95.09,534.9v-4.9M95.09,11.5v4.9M120.57,534.9v-4.9M120.57,11.5v4.9M146.05,534.9v-4.9M146.05,11.5v4.9M171.54,534.9v-4.9M171.54,11.5v4.9M222.51,534.9v-4.9M222.51,11.5v4.9M248.00,534.9v-4.9M248.00,11.5v4.9M273.48,534.9v-4.9M273.48,11.5v4.9M298.96,534.9v-4.9M298.96,11.5v4.9M349.93,534.9v-4.9M349.93,11.5v4.9M375.42,534.9v-4.9M375.42,11.5v4.9M400.90,534.9v-4.9M400.90,11.5v4.9M426.39,534.9v-4.9M426.39,11.5v4.9M477.36,534.9v-4.9M477.36,11.5v4.9M502.85,534.9v-4.9M502.85,11.5v4.9M528.33,534.9v-4.9M528.33,11.5v4.9M553.82,534.9v-4.9M553.82,11.5v4.9M69.6,516.21h4.9M579.3,516.21h-4.9M69.6,497.51h4.9M579.3,497.51h-4.9M69.6,478.82h4.9M579.3,478.82h-4.9M69.6,441.44h4.9M579.3,441.44h-4.9M69.6,422.74h4.9M579.3,422.74h-4.9M69.6,404.05h4.9M579.3,404.05h-4.9M69.6,366.66h4.9M579.3,366.66h-4.9M69.6,347.97h4.9M579.3,347.97h-4.9M69.6,329.28h4.9M579.3,329.28h-4.9M69.6,291.89h4.9M579.3,291.89h-4.9M69.6,273.20h4.9M579.3,273.20h-4.9M69.6,254.51h4.9M579.3,254.51h-4.9M69.6,217.12h4.9M579.3,217.12h-4.9M69.6,198.43h4.9M579.3,198.43h-4.9M69.6,179.74h4.9M579.3,179.74h-4.9M69.6,142.35h4.9M579.3,142.35h-4.9M69.6,123.66h4.9M579.3,123.66h-4.9M69.6,104.96h4.9M579.3,104.96h-4.9M69.6,67.58h4.9M579.3,67.58h-4.9M69.6,48.89h4.9M579.3,48.89h-4.9M69.6,30.19h4.9M579.3,30.19h-4.9" stroke="#222" stroke-width="1.15" fill="none"/>
<rect x="69.6" y="11.5" width="509.69999999999993" height="523.4" fill="none" stroke="#222" stroke-width="1.4"/>
<text x="69.6" y="559.1" font-size="22" text-anchor="middle">8</text>
<text x="197.0" y="559.1" font-size="22" text-anchor="middle">10</text>
<text x="324.4" y="559.1" font-size="22" text-anchor="middle">12</text>
<text x="451.9" y="559.1" font-size="22" text-anchor="middle">14</text>
<text x="579.3" y="559.1" font-size="22" text-anchor="middle">16</text>
<text x="61.3" y="542.7" font-size="22" text-anchor="end">0.0</text>
<text x="61.3" y="467.9" font-size="22" text-anchor="end">0.4</text>
<text x="61.3" y="393.2" font-size="22" text-anchor="end">0.8</text>
<text x="61.3" y="318.4" font-size="22" text-anchor="end">1.2</text>
<text x="61.3" y="243.6" font-size="22" text-anchor="end">1.6</text>
<text x="61.3" y="168.8" font-size="22" text-anchor="end">2.0</text>
<text x="61.3" y="94.1" font-size="22" text-anchor="end">2.4</text>
<text x="61.3" y="19.3" font-size="22" text-anchor="end">2.8</text>
<text x="324.3" y="584.5" font-size="26.3" text-anchor="middle"><tspan font-style="italic">R</tspan><tspan dx="2"> [km]</tspan></text>
<text x="0" y="0" font-size="26.4" font-style="italic" letter-spacing="1.2" transform="translate(22.6 309.3) rotate(-90)">M/M<tspan font-size="18.7" dy="5.4" dx="-0.5" font-style="normal">⊙</tspan></text>
<rect x="443.4" y="22.2" width="125.1" height="66.6" rx="3.4" fill="#fff" fill-opacity="0.8" stroke="#ccc" stroke-width="1.2"/>
<rect x="452" y="32.3" width="41.8" height="12.1" fill="#0000ff" fill-opacity="0.2"/>
<path d="M452,38.3h42" stroke="#00f" stroke-width="1.65" stroke-dasharray="6.1,2.65"/>
<rect x="452" y="62.4" width="41.8" height="12.6" fill="#ff0000" fill-opacity="0.5"/>
<path d="M451,68.5h44" stroke="#f00" stroke-width="1.65"/>
<text x="511.8" y="45.6" font-size="21.6">NM</text>
<text x="511.8" y="75.8" font-size="21.6">HNM</text>
<rect x="128.5" y="362.9" width="194.3" height="129.60000000000002" fill="#fff"/>
<g clip-path="url(#ins)">
<path d="M128.8,451.0L130.1,449.9L131.8,448.5L133.8,446.9L136.0,445.0L138.4,443.0L141.0,440.9L143.6,438.8L146.1,436.6L148.7,434.5L151.1,432.5L153.3,430.7L155.3,429.1L157.1,427.7L158.8,426.4L160.3,425.1L161.8,424.0L163.3,422.9L164.7,421.8L166.0,420.8L167.4,419.8L168.7,418.8L170.1,417.8L171.5,416.8L172.9,415.7L174.4,414.7L175.9,413.6L177.4,412.6L178.8,411.5L180.3,410.5L181.8,409.5L183.2,408.5L184.7,407.5L186.2,406.5L187.7,405.6L189.1,404.6L190.6,403.7L192.1,402.8L193.5,401.9L195.0,401.1L196.5,400.2L198.0,399.4L199.4,398.5L200.9,397.7L202.4,396.9L203.8,396.2L205.3,395.4L206.8,394.6L208.2,393.8L209.7,393.1L211.2,392.3L212.7,391.6L214.1,390.9L215.6,390.2L217.1,389.5L218.5,388.8L220.0,388.1L221.5,387.4L223.0,386.8L224.4,386.1L225.9,385.4L227.4,384.6L228.8,383.9L230.3,383.2L231.8,382.5L233.2,381.8L234.7,381.0L236.2,380.3L237.7,379.6L239.1,378.9L240.6,378.2L242.1,377.5L243.5,376.9L245.0,376.2L246.5,375.6L248.0,375.0L249.4,374.4L250.9,373.8L252.4,373.2L253.8,372.6L255.3,372.0L256.8,371.5L258.3,370.9L259.7,370.4L261.2,369.8L262.7,369.3L264.1,368.8L265.6,368.2L267.1,367.7L268.5,367.2L270.0,366.7L271.5,366.2L273.0,365.7L274.4,365.3L275.9,364.8L277.4,364.3L278.8,363.8L280.3,363.4L281.8,362.9L283.3,362.4L284.9,361.9L286.4,361.5L287.9,361.0L289.4,360.6L290.9,360.1L292.3,359.7L293.8,359.3L295.1,358.9L296.5,358.5L297.8,358.2L299.1,357.8L300.3,357.5L301.6,357.2L302.7,356.9L303.9,356.6L305.1,356.3L306.2,356.1L307.3,355.8L308.4,355.5L309.5,355.3L310.6,355.0L311.7,354.7L312.8,354.5L314.0,354.2L315.1,353.9L316.2,353.6L317.3,353.4L318.4,353.1L319.3,352.9L320.2,352.7L321.0,352.5L321.7,352.3L322.3,352.2L322.3,372.6L321.0,372.9L319.4,373.2L317.4,373.6L315.3,374.0L312.9,374.4L310.5,374.9L308.0,375.3L305.4,375.8L303.0,376.3L300.6,376.8L298.4,377.2L296.5,377.6L294.7,378.0L293.1,378.3L291.5,378.7L290.0,379.0L288.6,379.3L287.2,379.6L285.8,380.0L284.4,380.3L283.1,380.7L281.7,381.0L280.3,381.4L278.8,381.8L277.4,382.3L275.9,382.7L274.4,383.2L273.0,383.7L271.5,384.1L270.0,384.7L268.5,385.2L267.1,385.7L265.6,386.2L264.1,386.7L262.7,387.3L261.2,387.8L259.7,388.4L258.3,388.9L256.8,389.5L255.3,390.0L253.8,390.6L252.4,391.2L250.9,391.8L249.4,392.4L248.0,393.0L246.5,393.6L245.0,394.2L243.5,394.9L242.1,395.6L240.6,396.2L239.1,396.9L237.7,397.6L236.2,398.3L234.7,399.1L233.2,399.8L231.8,400.6L230.3,401.3L228.8,402.1L227.4,402.9L225.9,403.7L224.4,404.5L223.0,405.4L221.5,406.2L220.0,407.1L218.5,407.9L217.1,408.8L215.6,409.7L214.1,410.6L212.7,411.5L211.2,412.4L209.7,413.4L208.2,414.3L206.8,415.2L205.3,416.2L203.8,417.2L202.4,418.1L200.9,419.1L199.4,420.1L198.0,421.1L196.5,422.1L195.0,423.2L193.5,424.2L192.1,425.2L190.6,426.3L189.1,427.4L187.7,428.4L186.2,429.5L184.7,430.6L183.2,431.7L181.8,432.8L180.3,434.0L178.8,435.1L177.4,436.2L175.9,437.4L174.4,438.5L172.9,439.7L171.5,440.9L170.1,442.0L168.7,443.1L167.4,444.3L166.0,445.4L164.7,446.6L163.3,447.8L161.8,449.0L160.3,450.3L158.8,451.6L157.1,453.0L155.3,454.5L153.3,456.2L151.1,458.1L148.7,460.1L146.1,462.2L143.6,464.4L141.0,466.6L138.4,468.7L136.0,470.7L133.8,472.6L131.8,474.3L130.1,475.7L128.8,476.8Z" fill="#ff0000" fill-opacity="0.2"/>
<path d="M128.8,464.4L130.1,463.3L131.8,461.8L133.8,460.1L136.0,458.1L138.4,456.0L141.0,453.8L143.6,451.6L146.1,449.3L148.7,447.1L151.1,445.1L153.3,443.2L155.3,441.5L157.1,440.0L158.8,438.6L160.3,437.3L161.8,436.1L163.3,434.9L164.7,433.8L166.0,432.7L167.4,431.6L168.7,430.6L170.1,429.5L171.5,428.4L172.9,427.4L174.4,426.3L175.9,425.2L177.4,424.1L178.8,423.1L180.3,422.0L181.8,421.0L183.2,420.0L184.7,419.0L186.2,418.0L187.7,417.0L189.1,416.0L190.6,415.0L192.1,414.0L193.5,413.0L195.0,412.1L196.5,411.1L198.0,410.2L199.4,409.2L200.9,408.3L202.4,407.3L203.8,406.4L205.3,405.5L206.8,404.6L208.2,403.7L209.7,402.8L211.2,402.0L212.7,401.1L214.1,400.2L215.6,399.4L217.1,398.6L218.5,397.7L220.0,396.9L221.5,396.1L223.0,395.4L224.4,394.6L225.9,393.8L227.4,393.1L228.8,392.4L230.3,391.6L231.8,390.9L233.2,390.2L234.7,389.6L236.2,388.9L237.7,388.2L239.1,387.6L240.6,387.0L242.1,386.3L243.5,385.7L245.0,385.1L246.5,384.5L248.0,383.9L249.4,383.3L250.9,382.8L252.4,382.2L253.8,381.7L255.3,381.1L256.8,380.6L258.3,380.0L259.7,379.5L261.2,379.0L262.7,378.5L264.1,378.0L265.6,377.5L267.1,377.0L268.5,376.5L270.0,376.1L271.5,375.6L273.0,375.1L274.4,374.7L275.9,374.2L277.4,373.8L278.8,373.4L280.3,372.9L281.7,372.5L283.1,372.1L284.4,371.7L285.8,371.3L287.2,370.9L288.6,370.5L290.0,370.1L291.5,369.7L293.1,369.3L294.7,368.8L296.5,368.4L298.4,367.9L300.6,367.4L303.0,366.9L305.4,366.4L308.0,365.8L310.5,365.3L312.9,364.8L315.3,364.3L317.4,363.8L319.4,363.4L321.0,363.0L322.3,362.8" stroke="#f00" stroke-width="1.2" fill="none"/>
</g>
<path d="M225.65,492.5v-3.6M225.65,362.9v3.6M128.5,427.7h3.6M128.5,362.9h3.6M128.5,492.5h3.6" stroke="#222" stroke-width="1.3" fill="none"/>
<rect x="128.5" y="362.9" width="194.3" height="129.60000000000002" fill="none" stroke="#222" stroke-width="1.3"/>
<text x="128.5" y="506.2" font-size="11.3" text-anchor="middle" color="#222" style="stroke-width:.15px">0.50</text>
<text x="225.7" y="506.2" font-size="11.3" text-anchor="middle" color="#222" style="stroke-width:.15px">0.65</text>
<text x="322.8" y="506.2" font-size="11.3" text-anchor="middle" color="#222" style="stroke-width:.15px">0.80</text>
<text x="127.9" y="355" font-size="11.3" text-anchor="middle" color="#222" style="stroke-width:.15px">0.01</text>
<text x="225.1" y="355" font-size="11.3" text-anchor="middle" color="#222" style="stroke-width:.15px">0.12</text>
<text x="322.2" y="355" font-size="11.3" text-anchor="middle" color="#222" style="stroke-width:.15px">0.39</text>
<text x="122.9" y="367.5" font-size="11.3" text-anchor="end" color="#222" style="stroke-width:.15px">2.00</text>
<text x="122.9" y="432.3" font-size="11.3" text-anchor="end" color="#222" style="stroke-width:.15px">1.75</text>
<text x="122.9" y="497.1" font-size="11.3" text-anchor="end" color="#222" style="stroke-width:.15px">1.50</text>
<text x="217.6" y="341" font-size="14" color="#222" font-style="italic">x</text><text x="226" y="343.6" font-size="11.3" color="#222">Λ</text>
<text x="196.3" y="517.8" font-size="14" color="#222"><tspan font-style="italic" style="font-family:'DejaVu Sans',sans-serif">ρ</tspan><tspan font-size="10.3" dy="2.5" font-style="italic">c</tspan><tspan dy="-2.5"> [fm</tspan><tspan font-size="10" dy="-6.2" dx="1.5" style="font-family:'DejaVu Sans',sans-serif">−</tspan><tspan font-size="10.3">3</tspan><tspan dy="6.2" dx="1.4">]</tspan></text>
<text font-size="14.2" font-style="italic" color="#222" letter-spacing="0.6" transform="translate(98 447.2) rotate(-90)">M/M<tspan font-size="10.2" dy="3" dx="-0.3" font-style="normal">⊙</tspan></text>
</svg></body></html>
